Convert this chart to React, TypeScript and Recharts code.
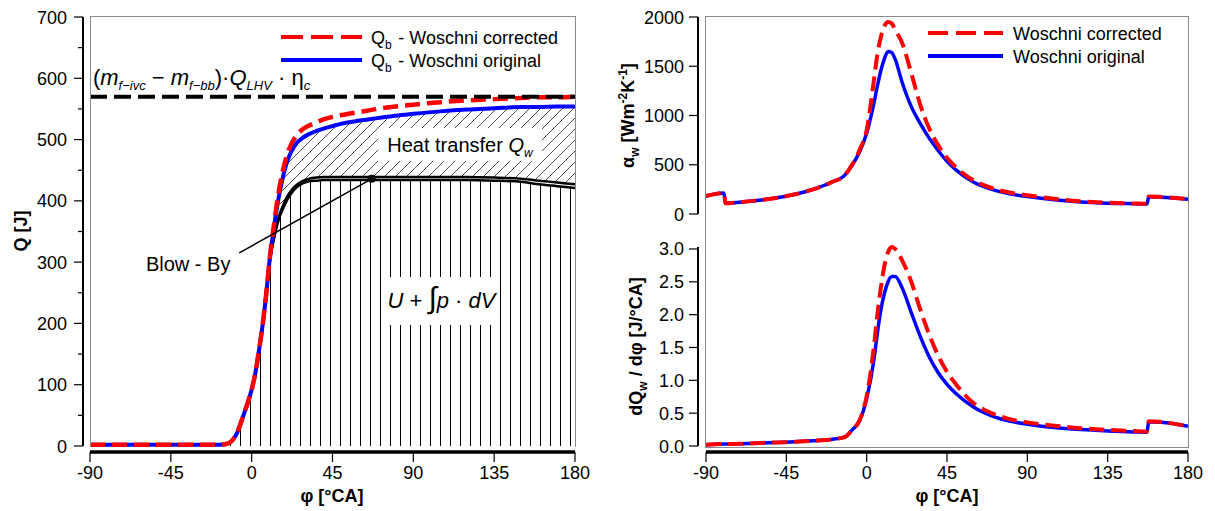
import React from 'react'
import {
  ComposedChart,
  LineChart,
  Line,
  Area,
  XAxis,
  YAxis,
  ReferenceLine,
  ReferenceArea,
  ReferenceDot,
  Legend,
  Label,
} from 'recharts'

const FONT = '"Liberation Sans", Arial, Helvetica, sans-serif'
const RED = '#ff0000'
const BLUE = '#0000ff'
const FRAME = '#8a8a8a'

// shared crank angle ticks
const phiTicks = [-90, -45, 0, 45, 90, 135, 180]
const qTicks = [0, 50, 100, 150, 200, 250, 300, 350, 400, 450, 500, 550, 600, 650, 700]
const alphaTicks = [0, 500, 1000, 1500, 2000]
const dqTicks = [0, 0.5, 1, 1.5, 2, 2.5, 3]

// left: cumulative heat [J]
const qPhi = [-90, -60, -30, -20, -15, -12, -10, -8, -6, -4, -2, 0, 2, 4, 6, 8, 10, 12, 14, 16, 18, 20, 22, 25, 28, 32, 36, 40, 45, 50, 60, 70, 80, 90, 105, 120, 135, 150, 160, 170, 180]
const qbCorrected = [2, 2, 2, 2, 3, 6, 12, 22, 38, 55, 72, 92, 118, 155, 195, 245, 305, 352, 395, 430, 457, 478, 492, 507, 516, 523, 528, 533, 537, 540, 545, 550, 554, 557, 561, 564, 566, 568, 569, 569, 570]
const qbOriginal = [2, 2, 2, 2, 3, 6, 12, 22, 38, 55, 72, 92, 118, 155, 195, 245, 303, 348, 388, 420, 446, 466, 480, 494, 502, 509, 514, 518, 522, 526, 531, 535, 539, 542, 546, 549, 551, 553, 553, 554, 554]
const qUpdV = [2, 2, 2, 2, 3, 6, 12, 22, 38, 55, 72, 92, 118, 155, 195, 244, 298, 332, 358, 377, 391, 403, 412, 422, 428, 432, 433, 434, 434, 434, 434, 434, 434, 434, 434, 434, 433, 431, 427, 424, 421]
const qUpdVBlowBy = [2, 2, 2, 2, 3, 6, 12, 22, 38, 55, 72, 92, 118, 155, 195, 245, 301, 336, 363, 382, 396, 408, 417, 426, 432, 436, 438, 439, 439, 439, 439, 439, 439, 439, 439, 439, 438, 436, 433, 430, 427]
const qFuel = 570

// right: heat transfer coefficient and rate
const wPhi = [-90, -80, -79, -70, -60, -50, -40, -30, -20, -12, -8, -4, 0, 4, 6, 8, 10, 12, 14, 16, 20, 25, 30, 35, 40, 45, 50, 60, 70, 80, 90, 105, 120, 135, 150, 157, 158, 165, 180]
const alphaCorrected = [183, 212, 108, 122, 140, 165, 200, 250, 320, 400, 505, 650, 850, 1350, 1620, 1800, 1910, 1950, 1935, 1870, 1730, 1430, 1110, 870, 700, 570, 475, 340, 264, 218, 190, 155, 130, 115, 107, 104, 178, 172, 152]
const alphaOriginal = [183, 212, 108, 122, 140, 165, 200, 250, 320, 400, 500, 630, 820, 1120, 1300, 1460, 1580, 1650, 1640, 1570, 1330, 1090, 920, 770, 645, 535, 448, 322, 250, 205, 178, 145, 122, 110, 104, 101, 175, 170, 150]
const dqCorrected = [0.02, 0.03, 0.03, 0.035, 0.045, 0.055, 0.065, 0.08, 0.1, 0.14, 0.25, 0.39, 0.76, 1.5, 2.0, 2.42, 2.75, 2.95, 3.03, 3.0, 2.82, 2.5, 2.08, 1.7, 1.38, 1.13, 0.94, 0.65, 0.5, 0.41, 0.36, 0.31, 0.27, 0.245, 0.228, 0.222, 0.375, 0.365, 0.3]
const dqOriginal = [0.02, 0.03, 0.03, 0.035, 0.045, 0.055, 0.065, 0.08, 0.1, 0.14, 0.25, 0.38, 0.72, 1.3, 1.72, 2.08, 2.33, 2.5, 2.58, 2.58, 2.4, 2.03, 1.67, 1.36, 1.12, 0.94, 0.8, 0.59, 0.46, 0.38, 0.33, 0.28, 0.25, 0.23, 0.215, 0.21, 0.37, 0.36, 0.3]

const leftData = qPhi.map((phi, i) => ({
  phi,
  corr: qbCorrected[i],
  orig: qbOriginal[i],
  u: qUpdV[i],
  ubb: qUpdVBlowBy[i],
  qw: [qUpdVBlowBy[i], qbOriginal[i]],
}))

const rightData = wPhi.map((phi, i) => ({
  phi,
  aCorr: alphaCorrected[i],
  aOrig: alphaOriginal[i],
  dCorr: dqCorrected[i],
  dOrig: dqOriginal[i],
}))

const txt = { fontFamily: FONT, fill: '#000' }

function yTick(axisGap: number, labelGap: number, isMajor: (v: number) => boolean, fmt: (v: number) => string) {
  return (props: any) => {
    const { x, y, payload } = props
    const v = payload.value
    const major = isMajor(v)
    const ax = x - axisGap
    return (
      <g>
        <line x1={ax - (major ? 9 : 5)} x2={ax} y1={y} y2={y} stroke="#000" strokeWidth={1.2} />
        {major && (
          <text x={ax - labelGap} y={y + 6.5} textAnchor="end" fontSize={18} {...txt}>
            {fmt(v)}
          </text>
        )}
      </g>
    )
  }
}

const phiTick = (props: any) => {
  const { x, y, payload } = props
  return (
    <g>
      <line x1={x} x2={x} y1={y + 6} y2={y + 16} stroke="#000" strokeWidth={1.2} />
      <text x={x} y={y + 33} textAnchor="middle" fontSize={18} {...txt}>
        {payload.value}
      </text>
    </g>
  )
}

type Row = { color: string; dash?: string; label: React.ReactNode }

function LegendBox({ rows, lineLen, textX }: { rows: Row[]; lineLen: number; textX: number }) {
  return (
    <svg width={320} height={50} style={{ overflow: 'visible', display: 'block' }}>
      {rows.map((r, i) => (
        <g key={i}>
          <line x1={0} x2={lineLen} y1={13 + i * 23} y2={13 + i * 23} stroke={r.color} strokeWidth={4} strokeDasharray={r.dash} />
          <text x={textX} y={19.5 + i * 23} fontSize={18} {...txt}>
            {r.label}
          </text>
        </g>
      ))}
    </svg>
  )
}

const sub = (s: string, size = 12, italic = false) => (
  <>
    <tspan dy={5} fontSize={size} fontStyle={italic ? 'italic' : 'normal'}>{s}</tspan>
    <tspan dy={-5}>{'\u200a'}</tspan>
  </>
)

const frameStyle = (left: number, top: number, w: number, h: number, noBottom = false): React.CSSProperties => ({
  position: 'absolute',
  left,
  top,
  width: w,
  height: h,
  boxSizing: 'border-box',
  border: `1.5px solid ${FRAME}`,
  borderBottom: noBottom ? 'none' : `1.5px solid ${FRAME}`,
  pointerEvents: 'none',
})

function LeftPanel() {
  return (
    <ComposedChart width={600} height={511} data={leftData} margin={{ top: 17, right: 25, bottom: 0, left: 0 }}>
      <defs>
        <pattern id="vHatch" patternUnits="userSpaceOnUse" width="10" height="10">
          <line x1="0.5" y1="0" x2="0.5" y2="10" stroke="#000" strokeWidth="1" />
        </pattern>
        <pattern id="dHatch" patternUnits="userSpaceOnUse" width="11" height="11">
          <path d="M0,11 L11,0 M-3,3 L3,-3 M8,14 L14,8" stroke="#222" strokeWidth="0.8" />
        </pattern>
      </defs>
      <XAxis
        dataKey="phi"
        type="number"
        domain={[-90, 180]}
        ticks={phiTicks}
        interval={0}
        height={65}
        tickSize={0}
        tickMargin={0}
        tickLine={false}
        axisLine={{ stroke: '#000', strokeWidth: 3.5, transform: 'translate(0,6)' }}
        tick={phiTick}
      >
        <Label
          content={() => (
            <text x={332} y={502} textAnchor="middle" fontSize={18} fontWeight="bold" {...txt}>
              φ [°CA]
            </text>
          )}
        />
      </XAxis>
      <YAxis
        type="number"
        domain={[0, 700]}
        ticks={qTicks}
        interval={0}
        width={90}
        tickSize={0}
        tickMargin={0}
        tickLine={false}
        axisLine={{ stroke: '#000', strokeWidth: 2, transform: 'translate(-7,0)' }}
        tick={yTick(7, 16, (v) => v % 100 === 0, (v) => String(v))}
      >
        <Label
          content={() => (
            <text transform="translate(27,231) rotate(-90)" textAnchor="middle" fontSize={18} fontWeight="bold" {...txt}>
              Q [J]
            </text>
          )}
        />
      </YAxis>

      <Area dataKey="u" type="monotone" stroke="none" fill="url(#vHatch)" fillOpacity={1} isAnimationActive={false} />
      <Area dataKey="qw" type="monotone" stroke="none" fill="url(#dHatch)" fillOpacity={1} isAnimationActive={false} />

      <ReferenceArea
        x1={70.3}
        x2={161.6}
        y1={465}
        y2={518.8}
        fill="#fff"
        fillOpacity={1}
        stroke="none"
        label={{
          content: (p: any) => {
            const vb = p.viewBox || {}
            return (
              <text x={vb.x + vb.width / 2} y={vb.y + vb.height / 2 + 7} textAnchor="middle" fontSize={20} {...txt}>
                Heat transfer <tspan fontStyle="italic">Q</tspan>
                <tspan dy={5} fontSize={12} fontStyle="italic">w</tspan>
              </text>
            )
          },
        }}
      />
      <ReferenceArea
        x1={73.1}
        x2={138.2}
        y1={197.4}
        y2={275.7}
        fill="#fff"
        fillOpacity={1}
        stroke="none"
        label={{
          content: (p: any) => {
            const vb = p.viewBox || {}
            return (
              <text x={vb.x + vb.width / 2} y={vb.y + vb.height / 2 + 7} textAnchor="middle" fontSize={22} {...txt}>
                <tspan fontStyle="italic">U</tspan> + <tspan fontSize={30}>∫</tspan>
                <tspan fontStyle="italic">p</tspan> · <tspan fontStyle="italic">dV</tspan>
              </text>
            )
          },
        }}
      />

      <Line dataKey="u" type="monotone" stroke="#000" strokeWidth={2.5} dot={false} isAnimationActive={false} />
      <Line dataKey="ubb" type="monotone" stroke="#000" strokeWidth={2.5} dot={false} isAnimationActive={false} />
      <Line dataKey="orig" type="monotone" stroke={BLUE} strokeWidth={4} dot={false} isAnimationActive={false} />
      <Line dataKey="corr" type="monotone" stroke={RED} strokeWidth={4.5} strokeDasharray="15 7" dot={false} isAnimationActive={false} />
      <ReferenceLine y={qFuel} stroke="#000" strokeWidth={4} strokeDasharray="17 7" />

      <ReferenceLine
        segment={[
          { x: -6.9, y: 315 },
          { x: 66.8, y: 436 },
        ]}
        stroke="#000"
        strokeWidth={1.5}
      />
      <ReferenceDot x={66.8} y={436} r={4} fill="#000" stroke="none" />
      <ReferenceDot
        x={-58.3}
        y={284}
        r={1}
        fill="none"
        stroke="none"
        label={{
          content: (p: any) => {
            const vb = p.viewBox || {}
            return (
              <text x={vb.x} y={vb.y} fontSize={20} {...txt}>
                Blow - By
              </text>
            )
          },
        }}
      />
      <ReferenceDot
        x={-87.8}
        y={587}
        r={1}
        fill="none"
        stroke="none"
        label={{
          content: (p: any) => {
            const vb = p.viewBox || {}
            return (
              <text x={vb.x} y={vb.y} fontSize={22} {...txt}>
                (<tspan fontStyle="italic">m</tspan>
                <tspan dy={5} fontSize={13} fontStyle="italic">f−ivc</tspan>
                <tspan dy={-5}> − </tspan>
                <tspan fontStyle="italic">m</tspan>
                <tspan dy={5} fontSize={13} fontStyle="italic">f−bb</tspan>
                <tspan dy={-5}>)·</tspan>
                <tspan fontStyle="italic">Q</tspan>
                <tspan dy={5} fontSize={13} fontStyle="italic">LHV</tspan>
                <tspan dy={-5}> · η</tspan>
                <tspan dy={5} fontSize={13} fontStyle="italic">c</tspan>
              </text>
            )
          },
        }}
      />

      <Legend
        layout="vertical"
        align="center"
        verticalAlign="middle"
        wrapperStyle={{ left: 281, top: 24, width: 320, height: 50 }}
        content={() => (
          <LegendBox
            lineLen={81}
            textX={90}
            rows={[
              { color: RED, dash: '22 8', label: <>Q{sub('b')} - Woschni corrected</> },
              { color: BLUE, label: <>Q{sub('b')} - Woschni original</> },
            ]}
          />
        )}
      />
    </ComposedChart>
  )
}

function AlphaPanel() {
  return (
    <LineChart width={615} height={230} data={rightData} margin={{ top: 17, right: 27, bottom: 16, left: 0 }}>
      <XAxis dataKey="phi" type="number" domain={[-90, 180]} ticks={phiTicks} hide />
      <YAxis
        type="number"
        domain={[0, 2000]}
        ticks={alphaTicks}
        interval={0}
        width={106}
        tickSize={0}
        tickMargin={0}
        tickLine={false}
        axisLine={{ stroke: '#000', strokeWidth: 2, transform: 'translate(-8,0)' }}
        tick={yTick(8, 14, () => true, (v) => String(v))}
      >
        <Label
          content={() => (
            <text transform="translate(34,115.5) rotate(-90)" textAnchor="middle" fontSize={18} fontWeight="bold" {...txt}>
              α<tspan dy={5} fontSize={12}>w</tspan>
              <tspan dy={-5}> [Wm</tspan>
              <tspan dy={-7} fontSize={12}>-2</tspan>
              <tspan dy={7}>K</tspan>
              <tspan dy={-7} fontSize={12}>-1</tspan>
              <tspan dy={7}>]</tspan>
            </text>
          )}
        />
      </YAxis>
      <Line dataKey="aOrig" type="monotone" stroke={BLUE} strokeWidth={3.5} dot={false} isAnimationActive={false} />
      <Line dataKey="aCorr" type="monotone" stroke={RED} strokeWidth={4} strokeDasharray="15 7" dot={false} isAnimationActive={false} />
      <Legend
        layout="vertical"
        align="center"
        verticalAlign="middle"
        wrapperStyle={{ left: 328, top: 20, width: 280, height: 50 }}
        content={() => (
          <LegendBox
            lineLen={75}
            textX={85}
            rows={[
              { color: RED, dash: '20 8', label: 'Woschni corrected' },
              { color: BLUE, label: 'Woschni original' },
            ]}
          />
        )}
      />
    </LineChart>
  )
}

function RatePanel() {
  return (
    <LineChart width={615} height={281} data={rightData} margin={{ top: 17, right: 27, bottom: 0, left: 0 }}>
      <XAxis
        dataKey="phi"
        type="number"
        domain={[-90, 180]}
        ticks={phiTicks}
        interval={0}
        height={65}
        tickSize={0}
        tickMargin={0}
        tickLine={false}
        axisLine={{ stroke: '#000', strokeWidth: 3.5, transform: 'translate(0,6)' }}
        tick={phiTick}
      >
        <Label
          content={() => (
            <text x={347} y={272} textAnchor="middle" fontSize={18} fontWeight="bold" {...txt}>
              φ [°CA]
            </text>
          )}
        />
      </XAxis>
      <YAxis
        type="number"
        domain={[0, 3]}
        ticks={dqTicks}
        interval={0}
        width={106}
        tickSize={0}
        tickMargin={0}
        tickLine={false}
        axisLine={{ stroke: '#000', strokeWidth: 2, transform: 'translate(-8,0)' }}
        tick={yTick(8, 14, () => true, (v) => v.toFixed(1))}
      >
        <Label
          content={() => (
            <text transform="translate(42,116.5) rotate(-90)" textAnchor="middle" fontSize={18} fontWeight="bold" {...txt}>
              dQ<tspan dy={5} fontSize={12}>w</tspan>
              <tspan dy={-5}> / dφ [J/°CA]</tspan>
            </text>
          )}
        />
      </YAxis>
      <Line dataKey="dOrig" type="monotone" stroke={BLUE} strokeWidth={3.5} dot={false} isAnimationActive={false} />
      <Line dataKey="dCorr" type="monotone" stroke={RED} strokeWidth={4} strokeDasharray="15 7" dot={false} isAnimationActive={false} />
    </LineChart>
  )
}

export default function App() {
  return (
    <div style={{ position: 'absolute', left: 0, top: 0, width: 1215, height: 511, background: '#fff', fontFamily: FONT }}>
      <div style={{ position: 'absolute', left: 0, top: 0 }}>
        <LeftPanel />
      </div>
      <div style={{ position: 'absolute', left: 600, top: 0 }}>
        <AlphaPanel />
      </div>
      <div style={{ position: 'absolute', left: 600, top: 230 }}>
        <RatePanel />
      </div>
      <div style={frameStyle(89.5, 16, 486.5, 431, true)} />
      <div style={frameStyle(705, 16, 484, 431.5)} />
    </div>
  )
}
